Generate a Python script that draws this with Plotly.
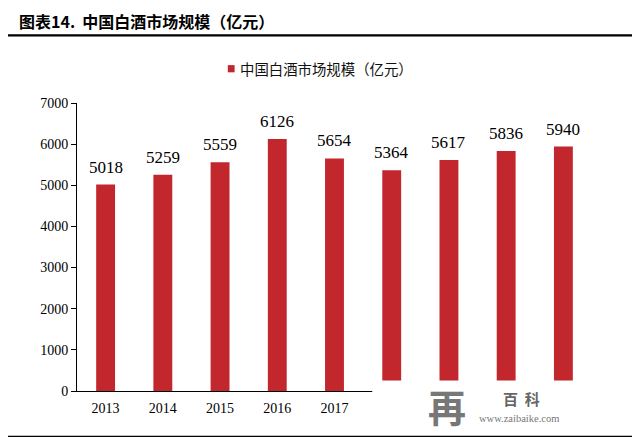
import plotly.graph_objects as go

categories = ["2013", "2014", "2015", "2016", "2017", "2018", "2019", "2020", "2021"]
values = [5018, 5259, 5559, 6126, 5654, 5364, 5617, 5836, 5940]
shown_ticks = ["2013", "2014", "2015", "2016", "2017"]
series_name = "中国白酒市场规模（亿元）"
title_text = "图表14.  中国白酒市场规模（亿元）"

# page body has an 8px margin, so the figure is drawn offset by 8px
O = 8
W, H = 640 - O, 439 - O
# plot area in reference (window) pixels
RL, RR, RT, RB = 77, 591.6, 102.7, 391.0
L, R, T, B = RL - O, RR - O, RT - O, RB - O

def px(x):
    return (x - RL) / (RR - RL)

def py(y):
    return (RB - y) / (RB - RT)

RED = "#C1272D"
serif = "Liberation Serif, Times New Roman, serif"
cjk = "Noto Sans CJK SC, sans-serif"

fig = go.Figure()
fig.add_trace(go.Bar(
    x=list(range(len(categories))), y=values, name=series_name,
    marker=dict(color=RED, line=dict(width=0)),
    width=0.33, showlegend=False,
))

annotations = []
for i, v in enumerate(values):
    annotations.append(dict(x=i, y=v, xref="x", yref="y", text=str(v),
                            showarrow=False, xanchor="center", yanchor="bottom", yshift=6,
                            font=dict(family=serif, size=17, color="#000")))

# title
annotations.append(dict(x=px(17), y=py(21), xref="paper", yref="paper",
                        text="<b>" + title_text + "</b>", showarrow=False,
                        xanchor="left", yanchor="middle",
                        font=dict(family=cjk, size=16, color="#000")))
# legend text
annotations.append(dict(x=px(238), y=py(68.5), xref="paper", yref="paper",
                        text=series_name, showarrow=False,
                        xanchor="left", yanchor="middle",
                        font=dict(family=cjk, size=14.4, color="#111")))
# watermark
annotations.append(dict(x=px(447), y=py(406), xref="paper", yref="paper",
                        text="<b>再</b>", showarrow=False, xanchor="center", yanchor="middle",
                        font=dict(family=cjk, size=38, color="#777")))
annotations.append(dict(x=px(521), y=py(398.5), xref="paper", yref="paper",
                        text="<b>百  科</b>", showarrow=False, xanchor="center", yanchor="middle",
                        font=dict(family=cjk, size=15, color="#666")))
annotations.append(dict(x=px(519), y=py(418.5), xref="paper", yref="paper",
                        text="www.zaibaike.com", showarrow=False, xanchor="center", yanchor="middle",
                        font=dict(family=serif, size=10.5, color="#777")))

shapes = [
    # legend square
    dict(type="rect", xref="paper", yref="paper", x0=px(227.7), x1=px(234.5),
         y0=py(72), y1=py(64.8), fillcolor=RED, line=dict(width=0)),
    # white patch under watermark
    dict(type="rect", xref="paper", yref="paper", x0=px(372), x1=px(645),
         y0=py(432), y1=py(380.6), fillcolor="white", line=dict(width=0), layer="above"),
    dict(type="line", xref="paper", yref="paper", x0=px(7), x1=px(633),
         y0=py(35), y1=py(35), line=dict(color="#000", width=2.2)),
    dict(type="line", xref="paper", yref="paper", x0=px(7), x1=px(633),
         y0=py(436.5), y1=py(436.5), line=dict(color="#000", width=1.3)),
]

fig.update_layout(
    width=W, height=H,
    margin=dict(l=L, r=W - R, t=T, b=H - B, pad=0),
    paper_bgcolor="white", plot_bgcolor="white",
    showlegend=False,
    xaxis=dict(range=[-0.5, len(categories) - 0.5], tickmode="array",
               tickvals=list(range(len(shown_ticks))), ticktext=shown_ticks,
               showline=True, linecolor="#000", linewidth=1, ticks="",
               ticklabelstandoff=4,
               tickfont=dict(family=serif, size=14, color="#000"), showgrid=False,
               zeroline=False),
    yaxis=dict(range=[0, 7000], dtick=1000, showline=True, linecolor="#000", linewidth=1,
               ticks="outside", ticklen=5, tickcolor="#000", showgrid=False, zeroline=False,
               tickfont=dict(family=serif, size=14, color="#000")),
    annotations=annotations,
    shapes=shapes,
)

fig.write_html("out.html")
